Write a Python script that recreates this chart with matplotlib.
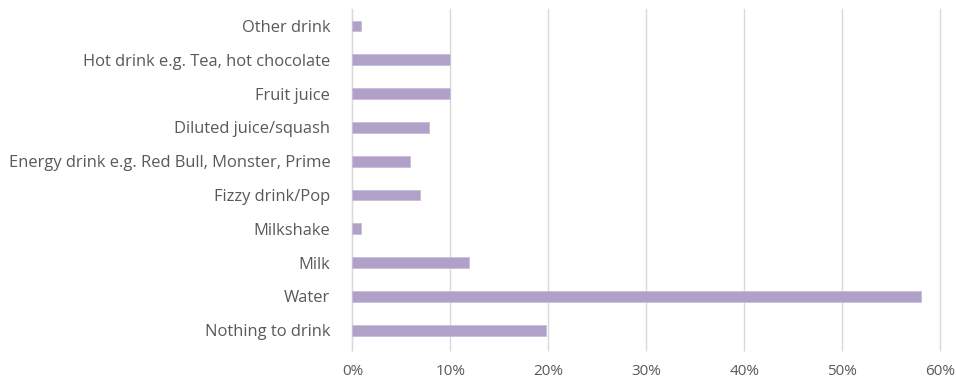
import matplotlib
matplotlib.use('Agg')
import matplotlib.pyplot as plt
from matplotlib.ticker import PercentFormatter

# drink categories, top to bottom
drinks = ['Other drink', 'Hot drink e.g. Tea, hot chocolate', 'Fruit juice',
          'Diluted juice/squash', 'Energy drink e.g. Red Bull, Monster, Prime',
          'Fizzy drink/Pop', 'Milkshake', 'Milk', 'Water', 'Nothing to drink']
share = [0.9, 10.0, 10.0, 7.8, 5.9, 6.9, 0.9, 11.9, 58.1, 19.8]
x_ticks = [0, 10, 20, 30, 40, 50, 60]

plt.rcParams['font.family'] = ['Open Sans', 'DejaVu Sans']
text_color = '#595959'
grid_color = '#d9d9d9'

fig = plt.figure(figsize=(9.56, 3.82), dpi=100)
ax = fig.add_axes([0.3687, 0.0916, 0.6146, 0.8848])

ypos = list(range(len(drinks)))
ax.barh(ypos, share, height=0.32, color='#b1a0c7', edgecolor='#c9bcdb', linewidth=0.6, zorder=3)
ax.set_ylim(len(drinks) - 0.5, -0.5)
ax.set_xlim(0, 60)
ax.set_yticks(ypos)
ax.set_yticklabels(drinks)
ax.set_xticks(x_ticks)
ax.xaxis.set_major_formatter(PercentFormatter(decimals=0))

ax.grid(axis='x', color=grid_color, linewidth=1, zorder=0)
for line in ax.get_xgridlines():
    line.set_clip_on(False)
for side in ['top', 'right', 'bottom']:
    ax.spines[side].set_visible(False)
ax.spines['left'].set_color(grid_color)
ax.tick_params(axis='y', length=0, pad=16, labelsize=11.9, labelcolor=text_color)
ax.tick_params(axis='x', length=3, width=1, color=grid_color, pad=9, labelsize=11, labelcolor=text_color)

fig.savefig('out.png', dpi=100)
plt.close(fig)
